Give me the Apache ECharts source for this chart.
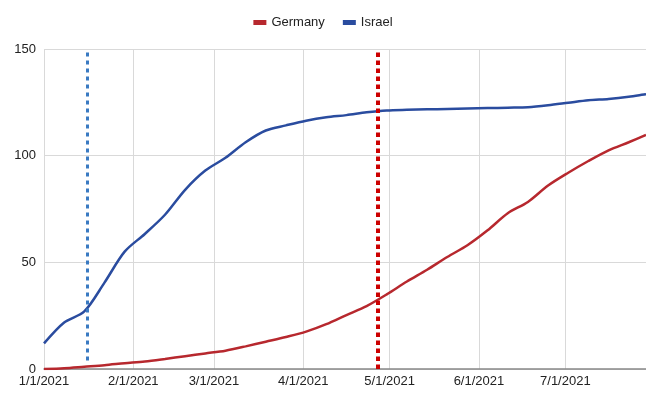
<!DOCTYPE html>
<html>
<head>
<meta charset="utf-8">
<script src="https://cdn.jsdelivr.net/npm/echarts@6/dist/echarts.min.js"></script>
<style>
  html, body { margin: 0; padding: 0; background: #fff; }
  #chart { width: 646px; height: 393px; }
</style>
</head>
<body>
<div id="chart"></div>
<script>
// weekly dates (last one is the end of the plot)
const dates = [
  '2021-01-01', '2021-01-08', '2021-01-15', '2021-01-22', '2021-01-29',
  '2021-02-05', '2021-02-12', '2021-02-19', '2021-02-26', '2021-03-05',
  '2021-03-12', '2021-03-19', '2021-03-26', '2021-04-02', '2021-04-09',
  '2021-04-16', '2021-04-23', '2021-04-30', '2021-05-07', '2021-05-14',
  '2021-05-21', '2021-05-28', '2021-06-04', '2021-06-11', '2021-06-18',
  '2021-06-25', '2021-07-02', '2021-07-09', '2021-07-16', '2021-07-23',
  '2021-07-29'
]
const germany = [
  0, 0.4, 1.1, 1.8, 2.7, 3.5, 4.7, 6, 7.3, 8.6,
  10.6, 12.8, 15, 17.5, 21, 25.3, 29.5, 35, 41, 46.5,
  52.5, 58, 65, 73, 78.3, 86, 92, 97.5, 102.5, 106.3,
  109.7
]
const israel = [
  12, 21.8, 27, 40.5, 55, 63.3, 72.3, 84, 93, 99,
  106.3, 111.8, 114.2, 116.4, 118, 119, 120.3, 121.2, 121.5, 121.7,
  121.9, 122.1, 122.3, 122.5, 122.7, 123.6, 124.8, 126, 126.6, 127.6,
  128.8
]
const yTicks = [0, 50, 100, 150]
const israelMark = '2021-01-16'
const germanyMark = '2021-04-27'

const fontFamily = '"Liberation Sans", Arial, sans-serif'

function pairs(vals) {
  return dates.map((d, i) => [d, vals[i]])
}

const chart = echarts.init(document.getElementById('chart'))
chart.setOption({
  animation: false,
  textStyle: { fontFamily: fontFamily },
  legend: {
    top: 11,
    left: 'center',
    icon: 'rect',
    itemWidth: 13,
    itemHeight: 5,
    itemGap: 18,
    textStyle: { fontSize: 13, color: '#222', fontFamily: fontFamily },
    data: ['Germany', 'Israel']
  },
  grid: { left: 44, right: 0, top: 49, bottom: 24, containLabel: false },
  xAxis: {
    type: 'time',
    min: '2021-01-01',
    max: dates[dates.length - 1],
    minInterval: 28 * 86400000,
    maxInterval: 31 * 86400000,
    axisLine: { lineStyle: { color: '#888', width: 1.5 } },
    axisTick: { show: false },
    splitLine: { show: true, lineStyle: { color: '#d9d9d9', width: 1 } },
    axisLabel: {
      fontSize: 13,
      color: '#222',
      margin: 6,
      showMaxLabel: false,
      hideOverlap: false,
      formatter: function (v) {
        const d = new Date(v)
        return (d.getMonth() + 1) + '/' + d.getDate() + '/' + d.getFullYear()
      }
    }
  },
  yAxis: {
    type: 'value',
    min: yTicks[0],
    max: yTicks[yTicks.length - 1],
    interval: 50,
    axisLine: { show: false },
    axisTick: { show: false },
    splitLine: { lineStyle: { color: '#d9d9d9', width: 1 } },
    axisLabel: { fontSize: 13, color: '#222', margin: 8 }
  },
  series: [
    {
      name: 'Germany',
      type: 'line',
      showSymbol: false,
      smooth: 0.3,
      color: '#b7282e',
      lineStyle: { width: 2.5 },
      data: pairs(germany),
      markLine: {
        silent: true,
        symbol: 'none',
        label: { show: false },
        lineStyle: { color: '#cc0000', width: 4, type: [4.5, 3.5] },
        data: [{ xAxis: germanyMark }]
      }
    },
    {
      name: 'Israel',
      type: 'line',
      showSymbol: false,
      smooth: 0.3,
      color: '#2a4c9f',
      lineStyle: { width: 2.5 },
      data: pairs(israel),
      markLine: {
        silent: true,
        symbol: 'none',
        label: { show: false },
        lineStyle: { color: '#3a7ac2', width: 3, type: [4, 4] },
        data: [[{ coord: [israelMark, 4] }, { coord: [israelMark, 150] }]]
      }
    }
  ]
})
</script>
</body>
</html>
